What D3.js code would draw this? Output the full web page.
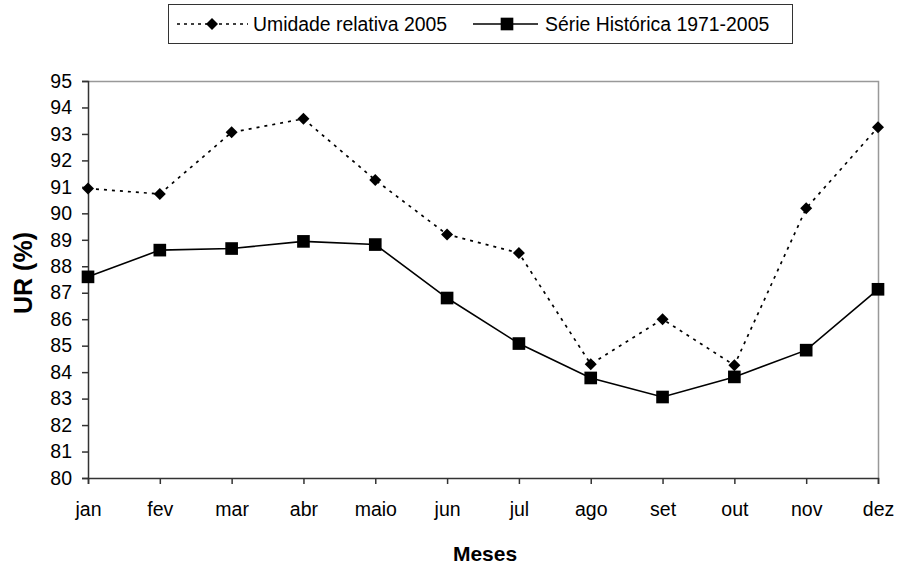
<!DOCTYPE html>
<html>
<head>
<meta charset="utf-8">
<script src="https://cdn.jsdelivr.net/npm/d3@7"></script>
<style>
  body { margin: 0; background: #fff; }
  svg text { font-family: "Liberation Sans", Arial, sans-serif; fill: #000; }
</style>
</head>
<body>
<div id="chart"></div>
<script>
const months = ['jan', 'fev', 'mar', 'abr', 'maio', 'jun', 'jul', 'ago', 'set', 'out', 'nov', 'dez']
const umidade2005 = [90.94, 90.73, 93.06, 93.57, 91.26, 89.2, 88.5, 84.3, 86.0, 84.26, 90.19, 93.25]
const serieHistorica = [87.6, 88.61, 88.67, 88.94, 88.82, 86.8, 85.08, 83.78, 83.06, 83.82, 84.83, 87.13]
const yTicks = d3.range(80, 96, 1)

const width = 906, height = 570
const margin = {top: 81, right: 28, bottom: 92, left: 88}
const w = width - margin.left - margin.right
const h = height - margin.top - margin.bottom

const svg = d3.select('#chart').append('svg')
  .attr('width', width)
  .attr('height', height)

const g = svg.append('g')
  .attr('transform', 'translate(' + margin.left + ',' + margin.top + ')')

const x = d3.scalePoint().domain(months).range([0, w])
const y = d3.scaleLinear().domain([80, 95]).range([h, 0])

// frame (top + right in grey)
g.append('path')
  .attr('d', 'M0,0.5H' + (w + 0.5) + 'V' + h)
  .attr('fill', 'none')
  .attr('stroke', '#999')
  .attr('stroke-width', 1.5)

// axes
const yAxis = g.append('g').attr('class', 'y axis')
  .call(d3.axisLeft(y).tickValues(yTicks).tickSize(6).tickPadding(10).tickFormat(d3.format('d')))
const xAxis = g.append('g').attr('class', 'x axis')
  .attr('transform', 'translate(0,' + h + ')')
  .call(d3.axisBottom(x).tickSize(6).tickPadding(18))

svg.selectAll('.axis path, .axis line')
  .attr('stroke', '#333')
  .attr('stroke-width', 1.5)
svg.selectAll('.axis text')
  .attr('font-size', '19.5px')
  .attr('fill', '#000')
  .attr('font-family', '"Liberation Sans", Arial, sans-serif')

// lines
const line = (vals) => d3.line()
  .x((d, i) => x(months[i]))
  .y((d) => y(d))(vals)

g.append('path')
  .attr('d', line(serieHistorica))
  .attr('fill', 'none')
  .attr('stroke', '#000')
  .attr('stroke-width', 1.6)

g.append('path')
  .attr('d', line(umidade2005))
  .attr('fill', 'none')
  .attr('stroke', '#000')
  .attr('stroke-width', 1.7)
  .attr('stroke-dasharray', '3,5')

const square = d3.symbol().type(d3.symbolSquare).size(160)
const diamond = d3.symbol().type(d3.symbolSquare).size(72)

g.selectAll('.sq').data(serieHistorica).enter()
  .append('path')
  .attr('class', 'sq')
  .attr('d', square)
  .attr('transform', (d, i) => 'translate(' + x(months[i]) + ',' + y(d) + ')')
  .attr('fill', '#000')

g.selectAll('.dm').data(umidade2005).enter()
  .append('path')
  .attr('class', 'dm')
  .attr('d', diamond)
  .attr('transform', (d, i) => 'translate(' + x(months[i]) + ',' + y(d) + ') rotate(45)')
  .attr('fill', '#000')

// axis titles
svg.append('text')
  .attr('x', 485)
  .attr('y', 561)
  .attr('text-anchor', 'middle')
  .attr('font-size', '21px')
  .attr('font-weight', 'bold')
  .text('Meses')

svg.append('text')
  .attr('transform', 'translate(32,273) rotate(-90)')
  .attr('text-anchor', 'middle')
  .attr('font-size', '25px')
  .attr('font-weight', 'bold')
  .text('UR (%)')

// legend
const legend = svg.append('g').attr('class', 'legend-container')
legend.append('rect')
  .attr('x', 168.5).attr('y', 4.5)
  .attr('width', 624).attr('height', 39)
  .attr('fill', '#fff')
  .attr('stroke', '#333')
  .attr('stroke-width', 1)

legend.append('line')
  .attr('x1', 177).attr('x2', 248).attr('y1', 24).attr('y2', 24)
  .attr('stroke', '#000').attr('stroke-width', 1.7)
  .attr('stroke-dasharray', '3,4')
legend.append('path')
  .attr('d', diamond)
  .attr('transform', 'translate(212,24) rotate(45)')
  .attr('fill', '#000')
legend.append('text')
  .attr('x', 253).attr('y', 31)
  .attr('font-size', '19.4px')
  .text('Umidade relativa 2005')

legend.append('line')
  .attr('x1', 473).attr('x2', 538).attr('y1', 24).attr('y2', 24)
  .attr('stroke', '#000').attr('stroke-width', 1.6)
legend.append('path')
  .attr('d', square)
  .attr('transform', 'translate(507,24)')
  .attr('fill', '#000')
legend.append('text')
  .attr('x', 545).attr('y', 31)
  .attr('font-size', '19.4px')
  .text('Série Histórica 1971-2005')
</script>
</body>
</html>
